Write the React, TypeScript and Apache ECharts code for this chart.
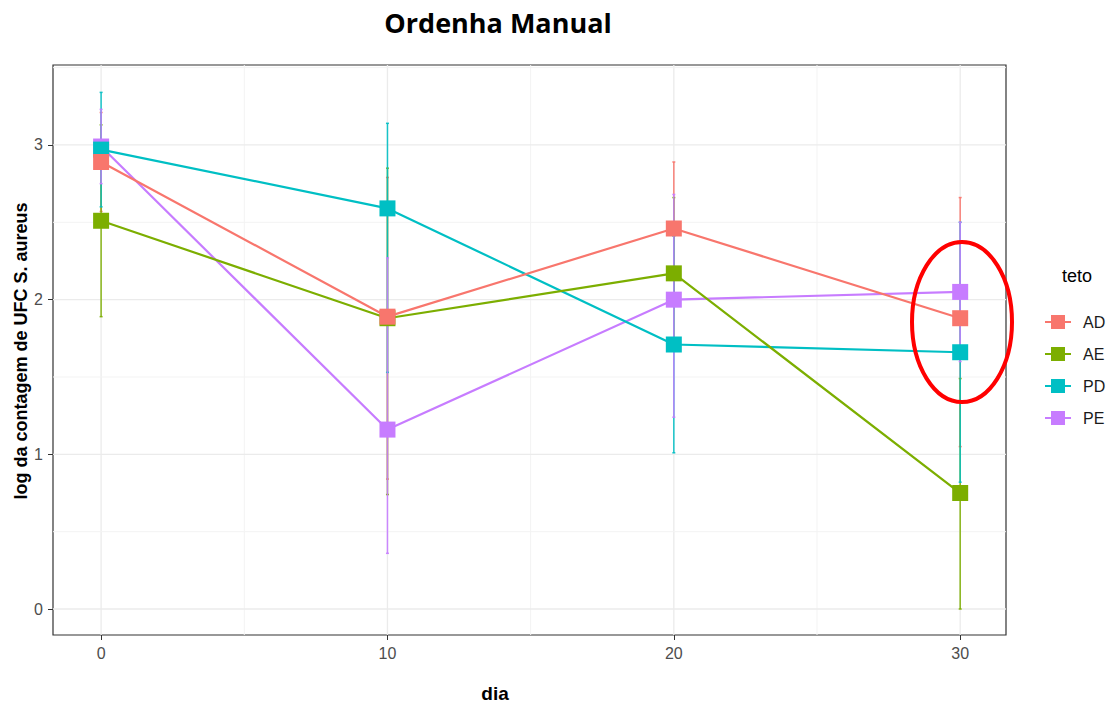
import React, { useEffect, useRef } from 'react';
import * as echarts from 'echarts';

const dias = [0, 10, 20, 30];
const groups = ['AD', 'AE', 'PD', 'PE'];
const colors = ['#F8766D', '#7CAE00', '#00BFC4', '#C77CFF'];

const meanAD = [2.89, 1.89, 2.46, 1.88];
const meanAE = [2.51, 1.88, 2.17, 0.75];
const meanPD = [2.97, 2.59, 1.71, 1.66];
const meanPE = [2.99, 1.16, 2.0, 2.05];

const lowAD = [2.57, 0.84, 2.03, 1.05];
const highAD = [3.21, 2.79, 2.89, 2.66];
const lowAE = [1.89, 0.74, 1.68, 0.0];
const highAE = [3.13, 2.85, 2.66, 1.49];
const lowPD = [2.6, 1.53, 1.01, 0.82];
const highPD = [3.34, 3.14, 2.41, 2.5];
const lowPE = [2.75, 0.36, 1.24, 1.6];
const highPE = [3.23, 2.27, 2.68, 2.5];

const xTicks = [0, 10, 20, 30];
const xMinor = [5, 15, 25];
const yTicks = [0, 1, 2, 3];
const yMinor = [0.5, 1.5, 2.5, 3.5];

const means = [meanAD, meanAE, meanPD, meanPE];
const lows = [lowAD, lowAE, lowPD, lowPE];
const highs = [highAD, highAE, highPD, highPE];

const FONT = '"Liberation Sans", Arial, sans-serif';
const legendIcon =
  'path://M0,6 L6,6 L6,0 L20,0 L20,6 L26,6 L26,8 L20,8 L20,14 L6,14 L6,8 L0,8 Z';

export default function App() {
  const ref = useRef<HTMLDivElement>(null);
  useEffect(() => {
    if (!ref.current) return;
    const chart = echarts.init(ref.current, null, { renderer: 'svg' });

    const gridData: number[][] = [];
    xTicks.forEach((v) => gridData.push([0, v, 1]));
    xMinor.forEach((v) => gridData.push([0, v, 0]));
    yTicks.forEach((v) => gridData.push([1, v, 1]));
    yMinor.forEach((v) => gridData.push([1, v, 0]));

    const series: any[] = [];
    series.push({
      type: 'custom',
      name: 'grid',
      silent: true,
      z: 0,
      data: gridData,
      encode: { x: -1, y: -1 },
      renderItem: (params: any, api: any) => {
        const cs = params.coordSys;
        const orient = api.value(0);
        const v = api.value(1);
        const major = api.value(2) === 1;
        const style = { stroke: major ? '#EBEBEB' : '#F3F3F3', lineWidth: major ? 1.3 : 1 };
        if (orient === 0) {
          const x = api.coord([v, 0])[0];
          return { type: 'line', shape: { x1: x, y1: cs.y, x2: x, y2: cs.y + cs.height }, style };
        }
        const y = api.coord([0, v])[1];
        return { type: 'line', shape: { x1: cs.x, y1: y, x2: cs.x + cs.width, y2: y }, style };
      },
    });

    groups.forEach((g, gi) => {
      series.push({
        type: 'custom',
        name: g + '-err',
        silent: true,
        z: 2 + gi * 0.1,
        data: dias.map((d, i) => [d, lows[gi][i], highs[gi][i]]),
        encode: { x: 0, y: [1, 2] },
        renderItem: (params: any, api: any) => {
          const p1 = api.coord([api.value(0), api.value(1)]);
          const p2 = api.coord([api.value(0), api.value(2)]);
          const style = { stroke: colors[gi], lineWidth: 1.5, opacity: 0.9 };
          return {
            type: 'group',
            children: [
              { type: 'line', shape: { x1: p1[0], y1: p1[1], x2: p2[0], y2: p2[1] }, style },
              { type: 'line', shape: { x1: p1[0] - 1.5, y1: p1[1], x2: p1[0] + 1.5, y2: p1[1] }, style },
              { type: 'line', shape: { x1: p2[0] - 1.5, y1: p2[1], x2: p2[0] + 1.5, y2: p2[1] }, style },
            ],
          };
        },
      });
    });

    groups.forEach((g, gi) => {
      series.push({
        type: 'line',
        name: g,
        data: dias.map((d, i) => [d, means[gi][i]]),
        symbol: 'rect',
        symbolSize: 16,
        showSymbol: true,
        z: 10 - gi,
        itemStyle: { color: colors[gi], opacity: 1 },
        lineStyle: { color: colors[gi], width: 2.2 },
        emphasis: { disabled: true },
      });
    });

    chart.setOption({
      animation: false,
      backgroundColor: '#ffffff',
      grid: {
        left: 53,
        right: 105,
        top: 65,
        bottom: 69,
        show: true,
        borderColor: '#333333',
        borderWidth: 1.2,
        backgroundColor: '#ffffff',
        containLabel: false,
      },
      xAxis: {
        type: 'value',
        min: -1.68,
        max: 31.6,
        axisLine: { show: false, onZero: false },
        splitLine: { show: false },
        axisTick: { show: true, customValues: xTicks, length: 5, lineStyle: { color: '#333333' } },
        axisLabel: {
          customValues: xTicks,
          color: '#4D4D4D',
          fontSize: 16,
          fontFamily: FONT,
          margin: 10,
        },
      },
      yAxis: {
        type: 'value',
        min: -0.168,
        max: 3.517,
        axisLine: { show: false, onZero: false },
        splitLine: { show: false },
        axisTick: { show: true, customValues: yTicks, length: 5, lineStyle: { color: '#333333' } },
        axisLabel: {
          customValues: yTicks,
          color: '#4D4D4D',
          fontSize: 16,
          fontFamily: FONT,
          margin: 10,
        },
      },
      legend: {
        data: groups.map((g) => ({ name: g, icon: legendIcon })),
        orient: 'vertical',
        left: 1040,
        top: 309,
        itemWidth: 26,
        itemHeight: 14,
        itemGap: 16,
        selectedMode: false,
        textStyle: { fontSize: 16, color: '#1A1A1A', fontFamily: FONT, padding: [0, 0, 0, 7] },
      },
      graphic: [
        {
          type: 'text',
          x: 498,
          y: 22,
          style: {
            text: 'Ordenha Manual',
            font: 'bold 27px "Open Sans", "Noto Sans", sans-serif',
            fill: '#000000',
            align: 'center',
            verticalAlign: 'middle',
          },
        },
        {
          type: 'text',
          x: 21,
          y: 351,
          rotation: Math.PI / 2,
          style: {
            text: 'log da contagem de UFC S. aureus',
            font: 'bold 18px ' + FONT,
            fill: '#000000',
            align: 'center',
            verticalAlign: 'middle',
          },
        },
        {
          type: 'text',
          x: 495,
          y: 693,
          style: {
            text: 'dia',
            font: 'bold 19px ' + FONT,
            fill: '#000000',
            align: 'center',
            verticalAlign: 'middle',
          },
        },
        {
          type: 'text',
          x: 1077,
          y: 276,
          style: {
            text: 'teto',
            font: '18px ' + FONT,
            fill: '#000000',
            align: 'center',
            verticalAlign: 'middle',
          },
        },
        {
          type: 'ellipse',
          z: 100,
          shape: { cx: 962, cy: 322, rx: 50, ry: 80 },
          style: { stroke: '#FF0000', lineWidth: 4, fill: 'none' },
        },
      ],
      series,
    });
    return () => chart.dispose();
  }, []);
  return (
    <div
      ref={ref}
      style={{ position: 'absolute', left: 0, top: 0, width: 1111, height: 704 }}
    />
  );
}
